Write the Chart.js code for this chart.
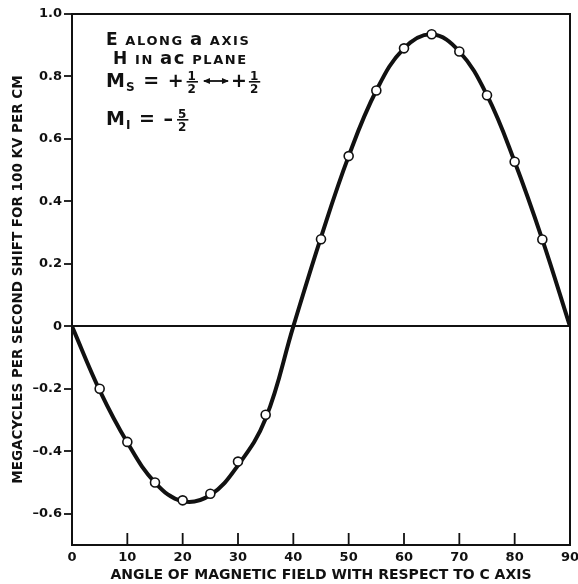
<!DOCTYPE html>
<html>
<head>
<meta charset="utf-8">
<script src="https://cdn.jsdelivr.net/npm/chart.js@4"></script>
<style>
	html, body { margin: 0; padding: 0; background: #fff; }
	#wrap { width: 578px; height: 584px; }
</style>
</head>
<body>
<div id="wrap"><canvas id="chart" width="578" height="584"></canvas></div>
<script>
// measured points (open circles)
const angles = [5, 10, 15, 20, 25, 30, 35, 45, 50, 55, 60, 65, 70, 75, 80, 85]
const shifts = [-0.20, -0.37, -0.50, -0.557, -0.536, -0.433, -0.283, 0.279, 0.545, 0.755, 0.89, 0.935, 0.88, 0.74, 0.527, 0.278]
// drawn smooth curve
const curveAngles = [0, 5, 10, 15, 20, 25, 30, 35, 40, 45, 50, 55, 60, 65, 70, 75, 80, 85, 90]
const curveShifts = [0, -0.205, -0.372, -0.5, -0.56, -0.54, -0.445, -0.295, 0, 0.285, 0.545, 0.755, 0.89, 0.935, 0.88, 0.74, 0.527, 0.278, 0]
const xTicks = [0, 10, 20, 30, 40, 50, 60, 70, 80, 90]
const yTicks = [-0.6, -0.4, -0.2, 0, 0.2, 0.4, 0.6, 0.8, 1.0]

const INK = '#111'
const FONT = "'DejaVu Sans', sans-serif"

function frac(ctx, num, den, x, midY, size) {
	ctx.font = `bold ${size}px ${FONT}`
	let w = Math.max(ctx.measureText(num).width, ctx.measureText(den).width)
	ctx.textAlign = 'center'
	ctx.fillText(num, x + w / 2 + 1, midY - 2)
	ctx.fillText(den, x + w / 2 + 1, midY + size - 1)
	ctx.fillRect(x, midY - 1, w + 2, 1.6)
	ctx.textAlign = 'left'
	return x + w + 2
}

function runs(ctx, parts, x, y) {
	for (let [text, size, dy] of parts) {
		ctx.font = `bold ${size}px ${FONT}`
		ctx.fillText(text, x, y + (dy || 0))
		x += ctx.measureText(text).width
	}
	return x
}

const framePlugin = {
	id: 'frame',
	afterDraw(chart) {
		const {ctx, chartArea: a, scales: {x}} = chart
		ctx.save()
		ctx.strokeStyle = INK
		ctx.lineWidth = 2
		ctx.strokeRect(a.left, a.top, a.right - a.left, a.bottom - a.top)
		// x ticks point up into the plot
		ctx.lineWidth = 1.8
		xTicks.forEach(v => {
			let px = x.getPixelForValue(v)
			ctx.beginPath()
			ctx.moveTo(px, a.bottom)
			ctx.lineTo(px, a.bottom - 12)
			ctx.stroke()
		})

		// notes, top left
		ctx.fillStyle = INK
		ctx.textBaseline = 'alphabetic'
		let L = a.left
		let T = a.top
		ctx.letterSpacing = '1.6px'
		runs(ctx, [['E', 17], [' ALONG ', 13], ['a', 18], [' AXIS', 13]], L + 34, T + 31)
		runs(ctx, [['H', 17], [' IN ', 13], ['ac', 18], [' PLANE', 13]], L + 41, T + 50)
		ctx.letterSpacing = '1px'
		let px = runs(ctx, [['M', 19], ['S', 12, 4], [' = +', 19]], L + 34, T + 73)
		px = frac(ctx, '1', '2', px + 2, T + 68, 12)
		// double arrow
		ctx.lineWidth = 1.8
		ctx.beginPath()
		ctx.moveTo(px + 6, T + 67); ctx.lineTo(px + 30, T + 67)
		ctx.stroke()
		ctx.beginPath()
		ctx.moveTo(px + 5, T + 67); ctx.lineTo(px + 12, T + 64); ctx.lineTo(px + 12, T + 70); ctx.closePath()
		ctx.moveTo(px + 31, T + 67); ctx.lineTo(px + 24, T + 64); ctx.lineTo(px + 24, T + 70); ctx.closePath()
		ctx.fill()
		px = runs(ctx, [['+', 19]], px + 33, T + 73)
		frac(ctx, '1', '2', px + 1, T + 68, 12)
		px = runs(ctx, [['M', 19], ['I', 12, 4], [' = \u2013', 19]], L + 34, T + 111)
		frac(ctx, '5', '2', px + 3, T + 106, 12)
		ctx.restore()
	}
}

new Chart(document.getElementById('chart'), {
	type: 'scatter',
	data: {
		datasets: [
			{
				data: curveAngles.map((a, i) => ({x: a, y: curveShifts[i]})),
				showLine: true,
				borderColor: INK,
				borderWidth: 4,
				pointRadius: 0,
				tension: 0.4,
				order: 2
			},
			{
				data: angles.map((a, i) => ({x: a, y: shifts[i]})),
				showLine: false,
				pointRadius: 4.5,
				pointBackgroundColor: '#fff',
				pointBorderColor: INK,
				pointBorderWidth: 1.6,
				order: 1
			}
		]
	},
	options: {
		responsive: false,
		animation: false,
		events: [],
		layout: {padding: {top: 14, right: 0, left: 0, bottom: 0}},
		plugins: {legend: {display: false}, tooltip: {enabled: false}},
		scales: {
			x: {
				type: 'linear',
				min: 0,
				max: 90,
				afterBuildTicks: s => { s.ticks = xTicks.map(v => ({value: v})) },
				afterFit: s => { s.height = 39; s.paddingRight = 8 },
				grid: {display: true, drawOnChartArea: false, drawTicks: false, lineWidth: 0},
				border: {color: INK, width: 2},
				ticks: {
					color: INK,
					padding: 5,
					maxRotation: 0,
					font: {family: FONT, size: 13, weight: 'bold'}
				},
				title: {
					display: true,
					text: 'ANGLE OF MAGNETIC FIELD WITH RESPECT TO C AXIS',
					color: INK,
					padding: {top: 0, bottom: 0},
					font: {family: FONT, size: 14, weight: 'bold'}
				}
			},
			y: {
				min: -0.7,
				max: 1.0,
				afterBuildTicks: s => { s.ticks = yTicks.map(v => ({value: v})) },
				afterFit: s => { s.width = 72 },
				grid: {
					drawOnChartArea: true,
					drawTicks: true,
					tickLength: 8,
					tickColor: INK,
					tickWidth: 1.8,
					lineWidth: c => c.tick && c.tick.value === 0 ? 2 : 0,
					color: c => c.tick && c.tick.value === 0 ? INK : 'rgba(0,0,0,0)'
				},
				border: {color: INK, width: 2},
				ticks: {
					color: INK,
					padding: 2,
					font: {family: FONT, size: 13, weight: 'bold'},
					callback: v => v === 0 ? '0' : (v < 0 ? '\u2013' + Math.abs(v).toFixed(1) : v.toFixed(1))
				},
				title: {
					display: true,
					text: 'MEGACYCLES PER SECOND SHIFT FOR 100 KV PER CM',
					color: INK,
					padding: {top: 10, bottom: 0},
					font: {family: FONT, size: 13.5, weight: 'bold'}
				}
			}
		}
	},
	plugins: [framePlugin]
})
</script>
</body>
</html>
